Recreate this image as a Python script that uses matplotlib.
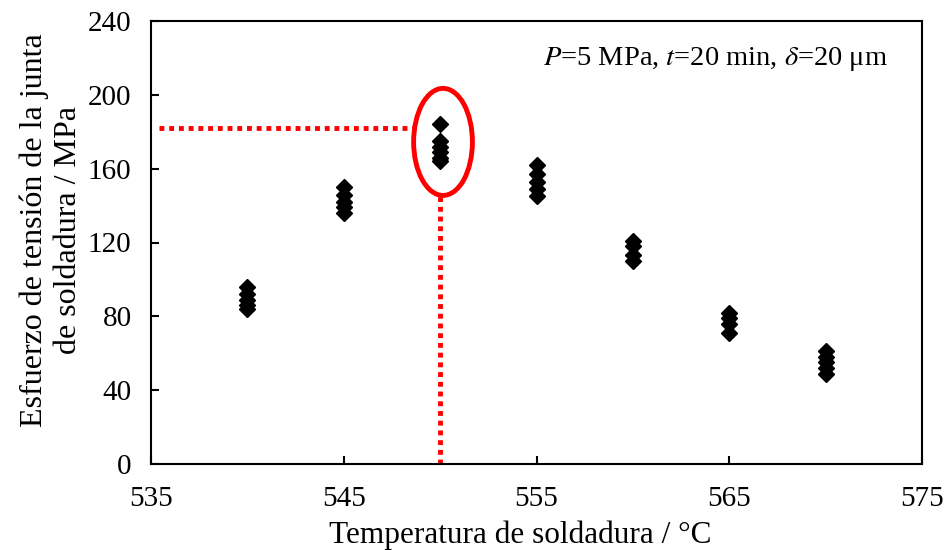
import matplotlib
matplotlib.use("Agg")
import matplotlib.pyplot as plt
from matplotlib.patches import Ellipse

temps = [540, 545, 550, 555, 560, 565, 570]
stress = {
    540: [96, 92, 89, 86, 84],
    545: [150, 146, 142, 139, 136],
    550: [184, 175, 172, 169, 166, 164],
    555: [162, 157, 153, 149, 145],
    560: [121, 118, 113, 110],
    565: [82, 79, 76, 71],
    570: [61, 58, 55, 52, 49],
}
x_ticks = [535, 545, 555, 565, 575]
y_ticks = [0, 40, 80, 120, 160, 200, 240]
opt_temp = 550
opt_stress = 182

plt.rcParams['font.family'] = ['Liberation Serif', 'DejaVu Serif']
plt.rcParams['mathtext.fontset'] = 'stix'

fig = plt.figure(figsize=(9.47, 5.5), dpi=100)
ax = fig.add_axes([151/947, 1-464/550, (922-151)/947, (464-21)/550])

for t in temps:
    ax.plot([t]*len(stress[t]), stress[t], linestyle='none', marker='D',
            markersize=8, color='black', zorder=3)

# red dotted guide lines
ax.plot([535.4, 548.7], [opt_stress, opt_stress], color='red', lw=3.5,
        linestyle=(0, (1, 1)), zorder=2)
ax.plot([opt_temp, opt_temp], [0, 145.5], color='red', lw=3.5,
        linestyle=(0, (1, 1)), zorder=2)
ell = Ellipse((550.15, 174.5), 3.05, 58, fill=False, edgecolor='red', lw=3.5, zorder=2)
ax.add_patch(ell)

ax.set_xlim(535, 575)
ax.set_ylim(0, 240)
ax.set_xticks(x_ticks)
ax.set_yticks(y_ticks)
ax.tick_params(direction='in', length=6, width=1.5, labelsize=21)
ax.tick_params(axis='x', pad=16)
ax.tick_params(axis='y', pad=14)
for s in ax.spines.values():
    s.set_linewidth(1.5)

ax.set_xlabel('Temperatura de soldadura / °C', fontsize=22.5)
ax.xaxis.set_label_coords(0.479, -0.128)
ax.set_ylabel('Esfuerzo de tensión de la junta\nde soldadura / MPa', fontsize=23,
              linespacing=1.25)
ax.yaxis.set_label_coords(-0.088, 0.528)

ax.text(0.956, 0.915, r'$\it{P}$=5 MPa, $\it{t}$=20 min, $\it{\delta}$=20 μm',
        transform=ax.transAxes, ha='right', va='center', fontsize=20.5)

fig.savefig('out.png', dpi=100)
